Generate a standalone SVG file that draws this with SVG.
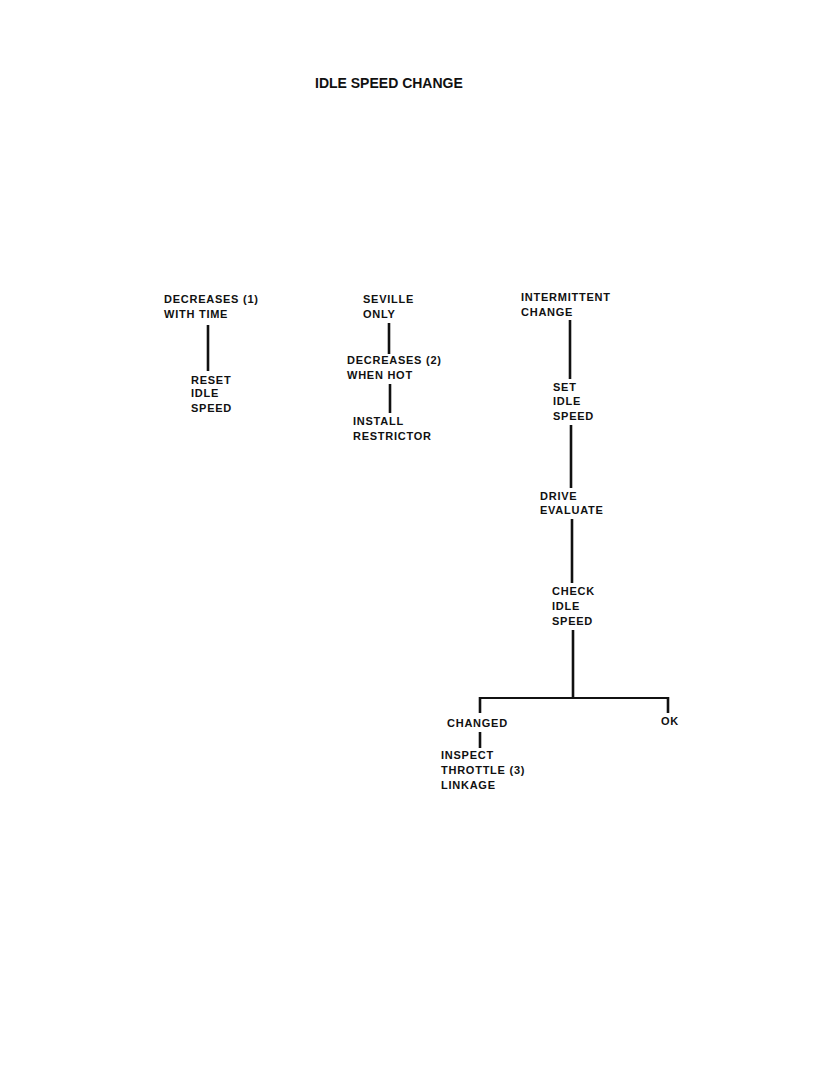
<svg xmlns="http://www.w3.org/2000/svg" width="834" height="1088" viewBox="0 0 834 1088">
<style>
text{font-family:"Liberation Sans",Arial,sans-serif;font-weight:bold;fill:#111}
.t{font-size:11px;letter-spacing:0.75px}
.title{font-size:14px}
.c line{stroke:#111;stroke-width:2.6;stroke-linecap:butt}
</style>
<rect width="834" height="1088" fill="#fff"/>
<text class="title" x="315" y="88">IDLE SPEED CHANGE</text>
<g id="decreases1"><text class="t" x="164" y="303">DECREASES (1)</text><text class="t" x="164" y="318">WITH TIME</text></g>
<g id="reset"><text class="t" x="191" y="384">RESET</text><text class="t" x="191" y="397">IDLE</text><text class="t" x="191" y="412">SPEED</text></g>
<g id="seville"><text class="t" x="363" y="303">SEVILLE</text><text class="t" x="363" y="318">ONLY</text></g>
<g id="decreases2"><text class="t" x="347" y="364">DECREASES (2)</text><text class="t" x="347" y="379">WHEN HOT</text></g>
<g id="install"><text class="t" x="353" y="425">INSTALL</text><text class="t" x="353" y="440">RESTRICTOR</text></g>
<g id="intermittent"><text class="t" x="521" y="301">INTERMITTENT</text><text class="t" x="521" y="316">CHANGE</text></g>
<g id="set"><text class="t" x="553" y="391">SET</text><text class="t" x="553" y="405">IDLE</text><text class="t" x="553" y="420">SPEED</text></g>
<g id="drive"><text class="t" x="540" y="500">DRIVE</text><text class="t" x="540" y="514">EVALUATE</text></g>
<g id="check"><text class="t" x="552" y="595">CHECK</text><text class="t" x="552" y="610">IDLE</text><text class="t" x="552" y="625">SPEED</text></g>
<g id="changed"><text class="t" x="447" y="727">CHANGED</text></g>
<g id="ok"><text class="t" x="661" y="725">OK</text></g>
<g id="inspect"><text class="t" x="441" y="759">INSPECT</text><text class="t" x="441" y="774">THROTTLE (3)</text><text class="t" x="441" y="789">LINKAGE</text></g>
<g id="connectors" class="c">
<line x1="208" y1="325" x2="208" y2="371"/>
<line x1="389" y1="323" x2="389" y2="354"/>
<line x1="390" y1="384" x2="390" y2="413"/>
<line x1="570" y1="320" x2="570" y2="379"/>
<line x1="571" y1="425" x2="571" y2="488"/>
<line x1="572" y1="519" x2="572" y2="583"/>
<line x1="573" y1="630" x2="573" y2="698"/>
<line x1="479" y1="698" x2="669" y2="698" style="stroke-width:2.2"/>
<line x1="480" y1="697" x2="480" y2="713"/>
<line x1="668" y1="697" x2="668" y2="713"/>
<line x1="480" y1="732" x2="480" y2="748"/>
</g>
</svg>
